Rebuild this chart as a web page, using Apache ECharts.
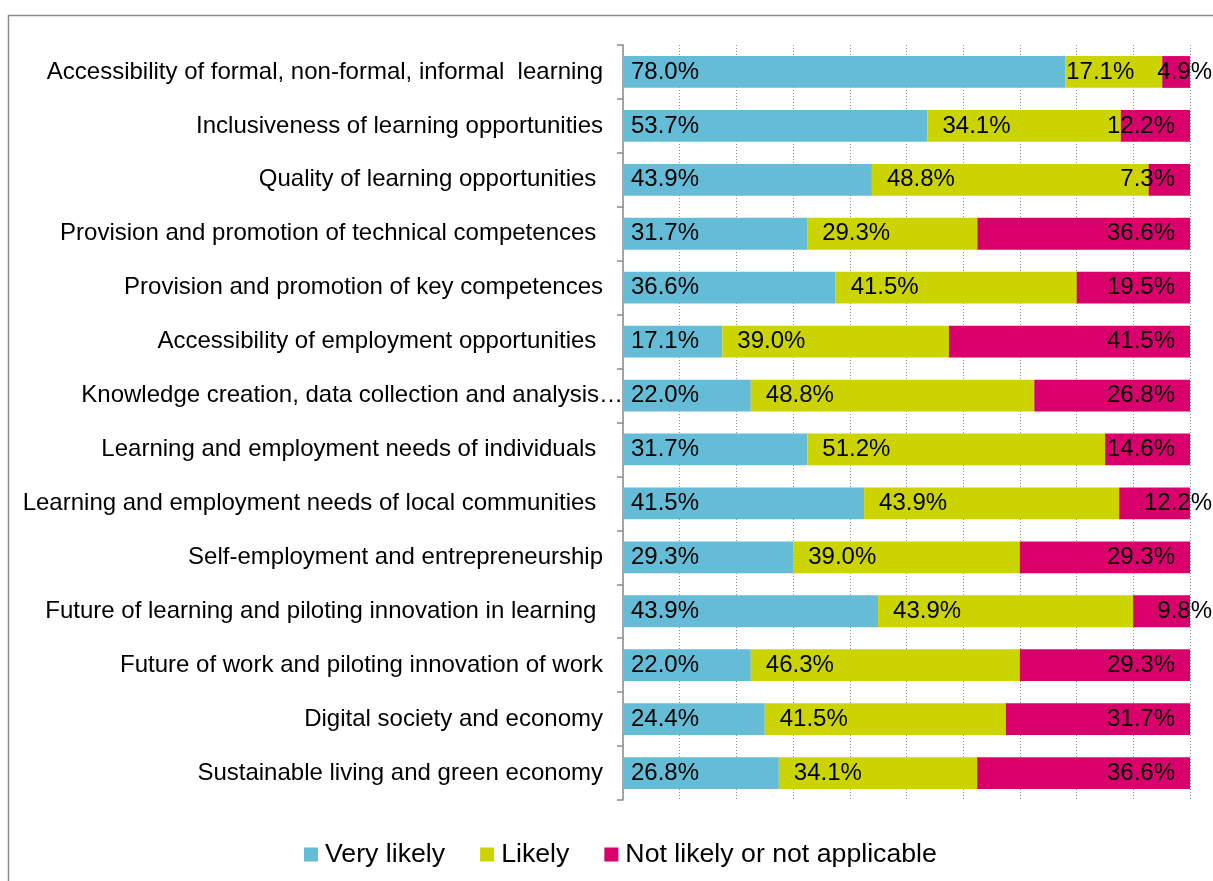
<!DOCTYPE html>
<html>
<head>
<meta charset="utf-8">
<script src="https://cdn.jsdelivr.net/npm/echarts@6/dist/echarts.min.js"></script>
<style>
  html, body { margin: 0; padding: 0; background: #fff; }
  #chart { width: 1213px; height: 881px; }
</style>
</head>
<body>
<div id="chart"></div>
<script>
// ---- Data ----
const categories = [
  'Accessibility of formal, non-formal, informal  learning',
  'Inclusiveness of learning opportunities',
  'Quality of learning opportunities ',
  'Provision and promotion of technical competences ',
  'Provision and promotion of key competences',
  'Accessibility of employment opportunities ',
  'Knowledge creation, data collection and analysis\u2026',
  'Learning and employment needs of individuals ',
  'Learning and employment needs of local communities ',
  'Self-employment and entrepreneurship',
  'Future of learning and piloting innovation in learning ',
  'Future of work and piloting innovation of work',
  'Digital society and economy',
  'Sustainable living and green economy'
];
const seriesNames = ['Very likely', 'Likely', 'Not likely or not applicable'];
const veryLikely = [78.0, 53.7, 43.9, 31.7, 36.6, 17.1, 22.0, 31.7, 41.5, 29.3, 43.9, 22.0, 24.4, 26.8];
const likely     = [17.1, 34.1, 48.8, 29.3, 41.5, 39.0, 48.8, 51.2, 43.9, 39.0, 43.9, 46.3, 41.5, 34.1];
const notLikely  = [4.9, 12.2, 7.3, 36.6, 19.5, 41.5, 26.8, 14.6, 12.2, 29.3, 9.8, 29.3, 31.7, 36.6];

// ---- Presentation ----
const colors = ['#64BCD6', '#CCD400', '#DA006B'];
const FONT = "'Liberation Sans', Arial, sans-serif";
// rows whose labels the original chart placed differently (label styling only)
const likelyLabelTight = [0];
const notLikelyLabelOutside = [0, 8, 10];

const totals = veryLikely.map((v, i) => v + likely[i] + notLikely[i]);
function items(arr, labelFor) {
  return arr.map((v, i) => {
    const item = { value: v / totals[i] * 100, raw: v };
    const lab = labelFor ? labelFor(i) : null;
    if (lab) item.label = lab;
    return item;
  });
}
const labelBase = {
  show: true, color: '#000', fontSize: 24, fontFamily: FONT,
  formatter: p => p.data.raw.toFixed(1) + '%'
};

const chart = echarts.init(document.getElementById('chart'), null, { renderer: 'canvas' });
chart.setOption({
  animation: false,
  backgroundColor: '#fff',
  color: colors,
  graphic: [{
    type: 'rect', z: -10, silent: true,
    shape: { x: 8.5, y: 15.5, width: 1400, height: 1000 },
    style: { fill: 'none', stroke: '#8c8c8c', lineWidth: 1.5 }
  }],
  grid: { left: 623, right: 23, top: 45, bottom: 81, containLabel: false },
  legend: {
    left: 304, top: 841, padding: 0,
    itemWidth: 14, itemHeight: 14, itemGap: 35,
    icon: 'rect',
    textStyle: { fontSize: 26.7, color: '#000', fontFamily: FONT, padding: [0, 0, 0, 2] },
    data: seriesNames
  },
  xAxis: {
    type: 'value', min: 0, max: 100, interval: 10,
    axisLabel: { show: false }, axisLine: { show: false }, axisTick: { show: false },
    splitLine: { show: true, lineStyle: { color: '#8f8f8f', type: [1, 2], width: 1 } }
  },
  yAxis: {
    type: 'category', inverse: true, data: categories,
    axisLine: { show: true, lineStyle: { color: '#8c8c8c', width: 1.5 } },
    axisTick: { show: true, length: 6, lineStyle: { color: '#8c8c8c', width: 1.5 } },
    axisLabel: {
      margin: 0,
      formatter: v => (v.endsWith('\u2026') ? '{e|' + v + '}' : '{n|' + v + '}'),
      rich: {
        n: { fontSize: 24, color: '#000', fontFamily: FONT, padding: [0, 20, 0, 0] },
        e: { fontSize: 24, color: '#000', fontFamily: FONT, padding: [0, 0, 0, 0] }
      }
    }
  },
  series: [
    {
      name: seriesNames[0], type: 'bar', stack: 'all', barCategoryGap: '41%',
      label: Object.assign({}, labelBase, { position: 'insideLeft', distance: 8 }),
      data: items(veryLikely)
    },
    {
      name: seriesNames[1], type: 'bar', stack: 'all', barCategoryGap: '41%',
      label: Object.assign({}, labelBase, { position: 'insideLeft', distance: 15 }),
      data: items(likely, i => likelyLabelTight.includes(i) ? { distance: 1 } : null)
    },
    {
      name: seriesNames[2], type: 'bar', stack: 'all', barCategoryGap: '41%',
      label: Object.assign({}, labelBase, { position: 'insideRight', distance: 15 }),
      data: items(notLikely, i => notLikelyLabelOutside.includes(i) ? { distance: -22 } : null)
    }
  ]
});
</script>
</body>
</html>
